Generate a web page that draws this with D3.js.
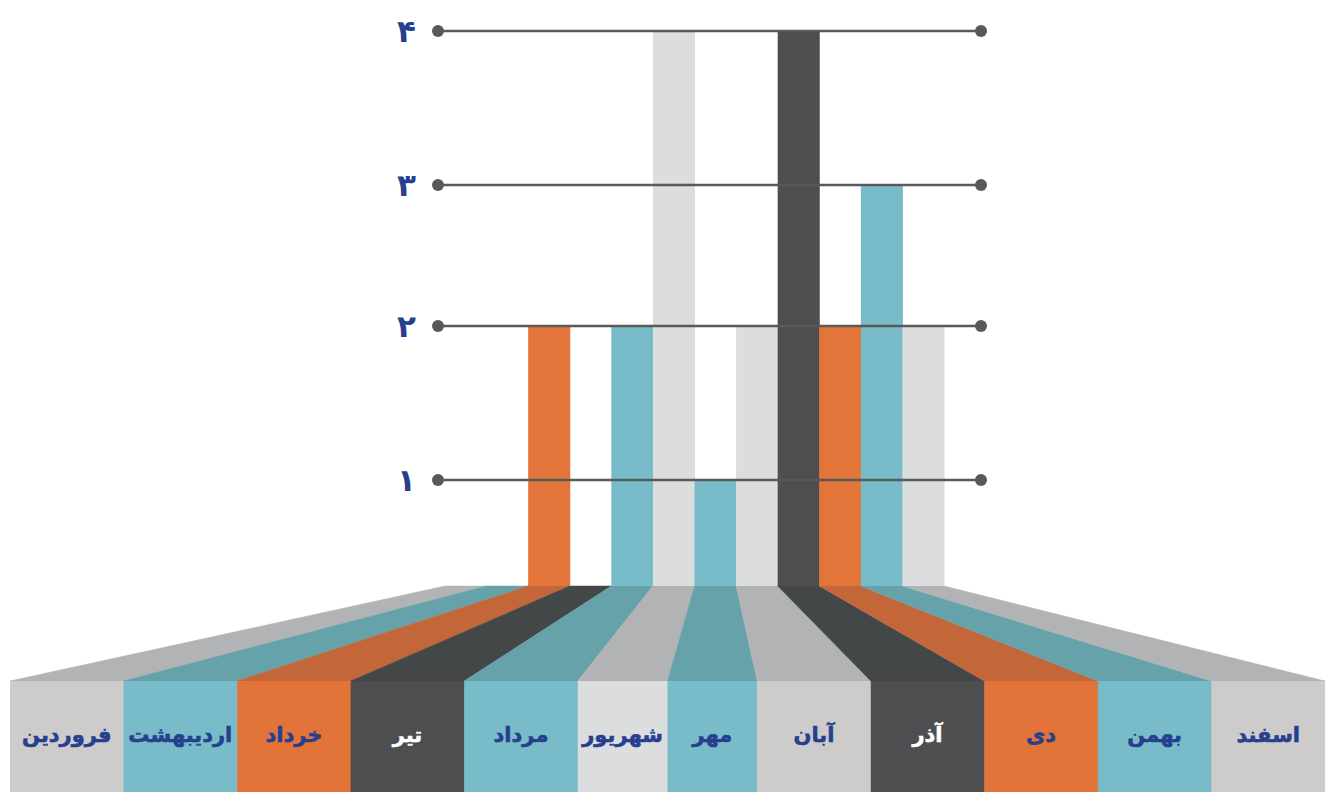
<!DOCTYPE html>
<html lang="fa">
<head>
<meta charset="utf-8">
<script src="https://cdn.jsdelivr.net/npm/d3@7"></script>
<style>
  html, body { margin: 0; padding: 0; background: #fff; }
  svg { display: block; }
</style>
</head>
<body>
<svg width="1325" height="792"></svg>
<script>
// months, left to right as in the picture
const months = ["فروردین", "اردیبهشت", "خرداد", "تیر", "مرداد", "شهریور", "مهر", "آبان", "آذر", "دی", "بهمن", "اسفند"];
const values = [0, 0, 2, 0, 2, 4, 1, 2, 4, 2, 3, 2];
const tones = ["gray", "teal", "orange", "dark", "teal", "light", "teal", "gray", "dark", "orange", "teal", "gray"];
const tickValues = [1, 2, 3, 4];
const tickLabels = ["۱", "۲", "۳", "۴"];

const barColor = {gray: "#dcdddf", light: "#dcdddf", teal: "#78bbc9", orange: "#e3743a", dark: "#4e4e50"};
const boxColor = {gray: "#cdcccb", light: "#dcdddf", teal: "#78bbc9", orange: "#e2743a", dark: "#4e4e50"};
const fanColor = {gray: "#b2b3b5", light: "#b2b3b5", teal: "#66a2aa", orange: "#c3673a", dark: "#444748"};
const textColor = {gray: "#263f8e", light: "#263f8e", teal: "#263f8e", orange: "#263f8e", dark: "#ffffff"};

const svg = d3.select("svg");
const width = 1325, height = 792;
const baseY = 586, boxTop = 681;

const x = d3.scaleBand().domain(d3.range(months.length)).range([445, 944]).padding(0);
// the original axis is not evenly spaced, so map each step on its own
const y = d3.scaleLinear().domain([0, 1, 2, 3, 4]).range([baseY, 480, 326, 185, 31]);

// label boxes: the two in the middle are narrower in the original layout
const boxWeight = months.map((m, i) => (i === 5 || i === 6) ? 0.79 : 1);
const cum = [0].concat(Array.from(d3.cumsum(boxWeight)));
const xBox = d3.scaleLinear().domain([0, cum[cum.length - 1]]).range([10, width]);
const bx0 = i => xBox(cum[i]);
const bx1 = i => xBox(cum[i + 1]);

// fan from the bars down to the label boxes
svg.append("g").selectAll("path")
  .data(months).enter()
  .append("path")
  .attr("fill", (d, i) => fanColor[tones[i]])
  .attr("stroke", (d, i) => fanColor[tones[i]])
  .attr("stroke-width", 0.5)
  .attr("d", (d, i) => {
    const t0 = x(i), t1 = x(i) + x.bandwidth();
    return `M${t0},${baseY}L${t1},${baseY}L${bx1(i)},${boxTop}L${bx0(i)},${boxTop}Z`;
  });

// bars
svg.append("g").selectAll("rect")
  .data(values).enter()
  .append("rect")
  .attr("x", (d, i) => x(i))
  .attr("width", x.bandwidth() + 0.5)
  .attr("y", d => y(d))
  .attr("height", d => baseY - y(d))
  .attr("fill", (d, i) => barColor[tones[i]]);

// grid lines with dots at both ends
const grid = svg.append("g");
const gx0 = 438, gx1 = 981;
grid.selectAll("line")
  .data(tickValues).enter()
  .append("line")
  .attr("x1", gx0).attr("x2", gx1)
  .attr("y1", d => y(d)).attr("y2", d => y(d))
  .attr("stroke", "#58595b")
  .attr("stroke-width", 2.5);
grid.selectAll("circle.l")
  .data(tickValues).enter()
  .append("circle").attr("class", "l")
  .attr("cx", gx0).attr("cy", d => y(d)).attr("r", 6)
  .attr("fill", "#58595b");
grid.selectAll("circle.r")
  .data(tickValues).enter()
  .append("circle").attr("class", "r")
  .attr("cx", gx1).attr("cy", d => y(d)).attr("r", 6)
  .attr("fill", "#58595b");
grid.selectAll("text")
  .data(tickValues).enter()
  .append("text")
  .attr("x", 416)
  .attr("y", d => y(d))
  .attr("dy", "0.35em")
  .attr("text-anchor", "end")
  .attr("font-family", "DejaVu Sans, sans-serif")
  .attr("font-weight", "bold")
  .attr("font-size", 31)
  .attr("fill", "#263f8e")
  .text((d, i) => tickLabels[i]);

// label boxes
const boxes = svg.append("g").selectAll("g")
  .data(months).enter()
  .append("g");
boxes.append("rect")
  .attr("x", (d, i) => bx0(i))
  .attr("y", boxTop)
  .attr("width", (d, i) => bx1(i) - bx0(i) + 0.5)
  .attr("height", height - boxTop)
  .attr("fill", (d, i) => boxColor[tones[i]]);
boxes.append("text")
  .attr("x", (d, i) => (bx0(i) + bx1(i)) / 2)
  .attr("y", 735)
  .attr("dy", "0.35em")
  .attr("text-anchor", "middle")
  .attr("direction", "rtl")
  .attr("font-family", "DejaVu Sans, sans-serif")
  .attr("font-weight", "bold")
  .attr("font-size", 21)
  .attr("fill", (d, i) => textColor[tones[i]])
  .attr("stroke", (d, i) => textColor[tones[i]])
  .attr("stroke-width", 0.6)
  .text(d => d);
</script>
</body>
</html>
